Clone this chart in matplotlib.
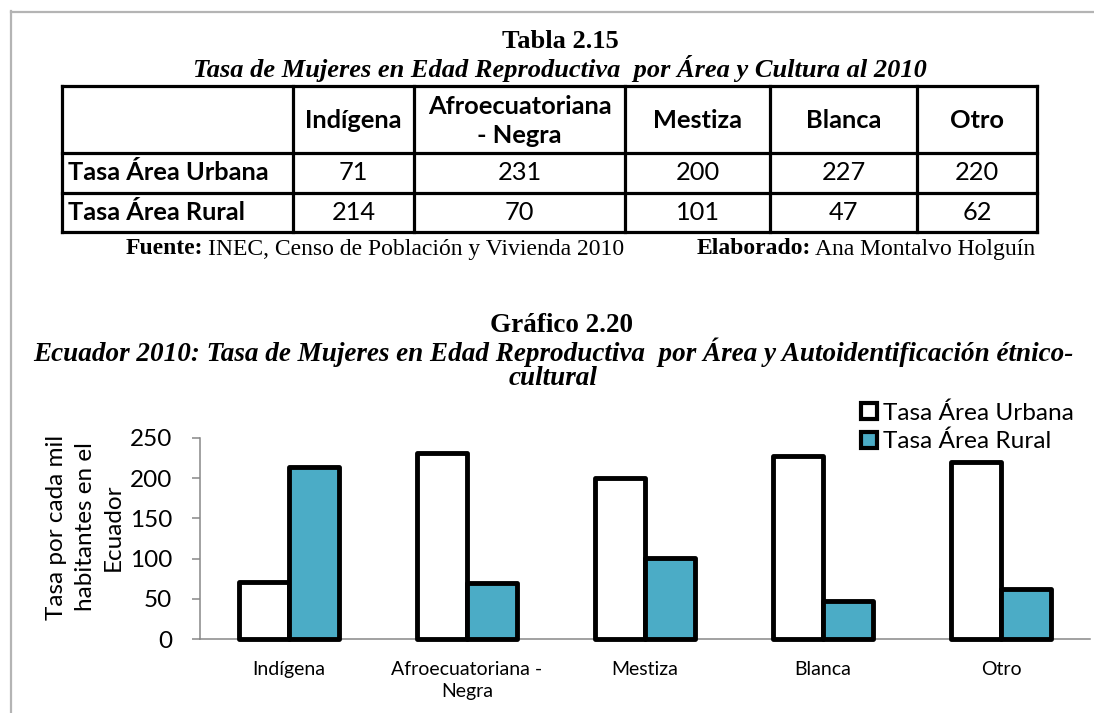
import numpy as np
import matplotlib
matplotlib.use('Agg')
import matplotlib.pyplot as plt
from matplotlib.lines import Line2D

# data
categories = ['Indígena', 'Afroecuatoriana -\nNegra', 'Mestiza', 'Blanca', 'Otro']
table_headers = ['Indígena', 'Afroecuatoriana\n- Negra', 'Mestiza', 'Blanca', 'Otro']
series_names = ['Tasa Área Urbana', 'Tasa Área Rural']
urbana = [71, 231, 200, 227, 220]
rural = [214, 70, 101, 47, 62]
y_ticks = [0, 50, 100, 150, 200, 250]

W, H = 1094, 713
SERIF = 'Liberation Serif'
SANS = 'Lato'
TEAL = '#4BACC6'
GRAY = '#878787'

fig = plt.figure(figsize=(W / 100, H / 100), dpi=100)

# page layer in pixel coords (y down)
page = fig.add_axes([0, 0, 1, 1])
page.set_xlim(0, W)
page.set_ylim(H, 0)
page.axis('off')

page.plot([11, W], [11.5, 11.5], color='#b4b4b4', lw=1.6)
page.plot([11, 11], [11, H], color='#b4b4b4', lw=1.6)

page.text(560, 42, 'Tabla 2.15', family=SERIF, weight='bold', fontsize=19,
          ha='center', va='center')
page.text(560, 68, 'Tasa de Mujeres en Edad Reproductiva  por Área y Cultura al 2010',
          family=SERIF, weight='bold', style='italic', fontsize=19,
          ha='center', va='center')

# table grid
col_x = [62, 293, 414, 625, 770, 917, 1037]
row_y = [86, 153, 193, 232]
for x in col_x:
    page.plot([x, x], [row_y[0], row_y[-1]], color='black', lw=2.3, solid_capstyle='projecting')
for y in row_y:
    page.plot([col_x[0], col_x[-1]], [y, y], color='black', lw=2.3, solid_capstyle='projecting')

for i, h in enumerate(table_headers):
    cx = (col_x[i + 1] + col_x[i + 2]) / 2
    page.text(cx, 121, h, family=SANS, weight='bold', fontsize=18.3,
              ha='center', va='center', linespacing=1.3)
for r, (name, vals) in enumerate(zip(series_names, [urbana, rural])):
    cy = (row_y[r + 1] + row_y[r + 2]) / 2
    page.text(68, cy, name, family=SANS, weight='bold', fontsize=18.3, ha='left', va='center')
    for i, v in enumerate(vals):
        cx = (col_x[i + 1] + col_x[i + 2]) / 2
        page.text(cx, cy, str(v), family=SANS, fontsize=18.3, ha='center', va='center')

fig.canvas.draw()
renderer = fig.canvas.get_renderer()


def mixed(x, y, bold, rest, size):
    t = page.text(x, y, bold, family=SERIF, weight='bold', fontsize=size,
                  ha='left', va='center')
    bb = t.get_window_extent(renderer)
    x2 = page.transData.inverted().transform((bb.x1, 0))[0]
    page.text(x2 + 4, y, rest, family=SERIF, fontsize=size, ha='left', va='center')


mixed(126, 249, 'Fuente:', 'INEC, Censo de Población y Vivienda 2010', 17)
mixed(697, 249, 'Elaborado:', 'Ana Montalvo Holguín', 17)

page.text(561, 325, 'Gráfico 2.20', family=SERIF, weight='bold', fontsize=19.5,
          ha='center', va='center')
page.text(553, 364,
          'Ecuador 2010: Tasa de Mujeres en Edad Reproductiva  por Área y Autoidentificación étnico-\ncultural',
          family=SERIF, weight='bold', style='italic', fontsize=19.5, ha='center', va='center',
          multialignment='center', linespacing=0.97)

# chart
x0, x1, y0, y1 = 200, 1090, 438, 639
ax = fig.add_axes([x0 / W, (H - y1) / H, (x1 - x0) / W, (y1 - y0) / H])
ax.patch.set_alpha(0)
x = np.arange(len(categories))
bw = 0.28
ax.bar(x - bw / 2, urbana, bw, color='white', edgecolor='black', linewidth=3.5,
       joinstyle='round', clip_on=False, zorder=3, label=series_names[0])
ax.bar(x + bw / 2, rural, bw, color=TEAL, edgecolor='black', linewidth=3.5,
       joinstyle='round', clip_on=False, zorder=3, label=series_names[1])
ax.set_xlim(-0.5, len(categories) - 0.5)
ax.set_ylim(0, 250)
ax.set_yticks(y_ticks)
ax.set_xticks(x)
ax.set_xticklabels(categories, family=SANS, fontsize=14, linespacing=1.35)
ax.set_yticklabels([str(v) for v in y_ticks], family=SANS, fontsize=17.5)
for s in ['top', 'right']:
    ax.spines[s].set_visible(False)
for s in ['left', 'bottom']:
    ax.spines[s].set_color(GRAY)
    ax.spines[s].set_linewidth(1.1)
ax.tick_params(axis='y', length=6, width=1.1, color=GRAY, pad=14)
ax.tick_params(axis='x', length=0, pad=16)

fig.text(85 / W, 1 - 527 / H, 'Tasa por cada mil\nhabitantes en el\nEcuador',
         family=SANS, fontsize=17.5, rotation=90, ha='center', va='center',
         multialignment='center', linespacing=1.45)

handles = [Line2D([], [], marker='s', ls='', markersize=12, markerfacecolor=c,
                  markeredgecolor='black', markeredgewidth=3)
           for c in ['white', TEAL]]
ax.legend(handles, series_names, loc='upper left', bbox_to_anchor=(860 / W, 1 - 402 / H),
          bbox_transform=fig.transFigure, frameon=False, prop={'family': SANS, 'size': 17.6},
          handlelength=0.7, handletextpad=0.25, labelspacing=0.3, borderpad=0, borderaxespad=0)

fig.savefig('out.png', dpi=100)
